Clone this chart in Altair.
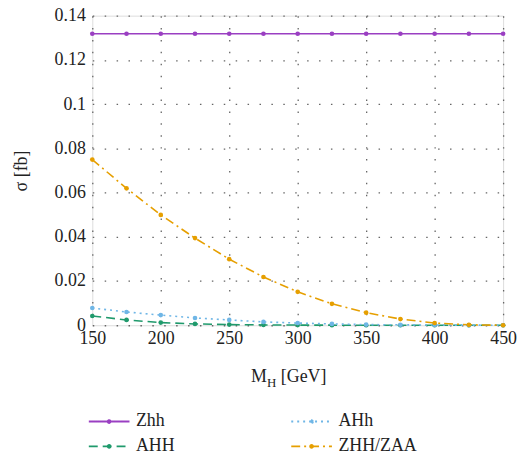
import altair as alt
import pandas as pd

mass = [150, 175, 200, 225, 250, 275, 300, 325, 350, 375, 400, 425, 450]
zhh = [0.1318, 0.1318, 0.1318, 0.1318, 0.1318, 0.1318, 0.1318, 0.1318, 0.1318, 0.1318, 0.1318, 0.1318, 0.1318]
ahh = [0.0042, 0.0024, 0.0012, 0.0006, 0.0003, 0.00015, 0.00008, 0.00004, 0.00002, 0.00001, 0.0, 0.0, 0.0]
ahh_light = [0.0078, 0.0060, 0.0046, 0.0033, 0.0024, 0.0015, 0.0010, 0.0006, 0.0003, 0.0002, 0.0001, 0.00005, 0.00002]
zhh_zaa = [0.0749, 0.0619, 0.0499, 0.0394, 0.0299, 0.0218, 0.0151, 0.0097, 0.0057, 0.0028, 0.0010, 0.0002, 0.0]

# order chosen so the 2-column legend reads: Zhh | AHh / AHH | ZHH/ZAA
series_names = ["Zhh", "AHH", "AHh", "ZHH/ZAA"]
series_colors = ["#9a3fc2", "#1f9a6c", "#6fb6e6", "#e69f00"]
series_dash = [[1, 0], [9, 5], [2, 4], [9, 4, 2, 4]]

rows = []
for name, vals in zip(series_names, [zhh, ahh, ahh_light, zhh_zaa]):
    for m, v in zip(mass, vals):
        rows.append({"M": m, "sigma": v, "series": name})
df = pd.DataFrame(rows)

FONT = "Liberation Serif"
W, H = 414, 312

xscale = alt.Scale(domain=[150, 450], nice=False, zero=False)
yscale = alt.Scale(domain=[0, 0.14], nice=False)
cscale = alt.Scale(domain=series_names, range=series_colors)

# legend symbol: a line with a dot in the middle
sym_path = "M-4.1,0H4.1M0.3,0A0.3,0.3 0 1,1 -0.3,0A0.3,0.3 0 1,1 0.3,0"
leg = alt.Legend(title=None, orient="none", legendX=8, legendY=H + 88,
                 columns=2, columnPadding=113, rowPadding=7,
                 symbolType=sym_path, symbolSize=100, symbolStrokeWidth=1.8,
                 labelFont=FONT, labelFontSize=18, labelColor="#222",
                 labelOffset=18)

color = alt.Color("series:N", scale=cscale, sort=series_names, legend=leg)
dash = alt.StrokeDash("series:N", scale=alt.Scale(domain=series_names, range=series_dash),
                      sort=series_names, legend=leg)

grid_style = dict(grid=True, gridDash=[1.5, 10.5], gridColor="#666", gridWidth=1.3)

xenc = alt.X("M:Q", scale=xscale,
             axis=alt.Axis(values=[150, 200, 250, 300, 350, 400, 450], title=None,
                           domain=False, ticks=False, labelPadding=4, labelFlush=False,
                           labelOverlap=False,
                           labelFont=FONT, labelFontSize=18, labelColor="#222", **grid_style))
yenc = alt.Y("sigma:Q", scale=yscale,
             axis=alt.Axis(values=[0, 0.02, 0.04, 0.06, 0.08, 0.1, 0.12, 0.14], format="~g",
                           title="σ [fb]", titleFont=FONT, titleFontSize=18, titleFontWeight="normal",
                           titleColor="#222", titlePadding=24, labelFlush=False,
                           domain=False, ticks=False, labelPadding=7,
                           labelFont=FONT, labelFontSize=18, labelColor="#222", **grid_style))

lines = alt.Chart(df).mark_line(strokeWidth=1.6).encode(x=xenc, y=yenc, color=color, strokeDash=dash)
points = alt.Chart(df).mark_circle(size=22, opacity=1).encode(
    x=alt.X("M:Q", scale=xscale), y=alt.Y("sigma:Q", scale=yscale),
    color=alt.Color("series:N", scale=cscale, legend=None))

base_text = dict(font=FONT, fontSize=18, color="#222", align="left", baseline="middle")
t1 = alt.Chart(pd.DataFrame({"t": ["M"]})).mark_text(**base_text).encode(
    text="t:N", x=alt.value(160), y=alt.value(H + 52))
t2 = alt.Chart(pd.DataFrame({"t": ["H"]})).mark_text(**{**base_text, "fontSize": 13}).encode(
    text="t:N", x=alt.value(176), y=alt.value(H + 58))
t3 = alt.Chart(pd.DataFrame({"t": ["[GeV]"]})).mark_text(**base_text).encode(
    text="t:N", x=alt.value(190), y=alt.value(H + 52))

chart = alt.layer(lines, points, t1, t2, t3).properties(
    width=W, height=H, padding={"left": 12, "top": 5, "right": 0, "bottom": 0}
).configure_view(stroke="black", strokeWidth=1.5).configure(background="white")

chart.save("out.html", embed_options={"renderer": "svg", "actions": False})
